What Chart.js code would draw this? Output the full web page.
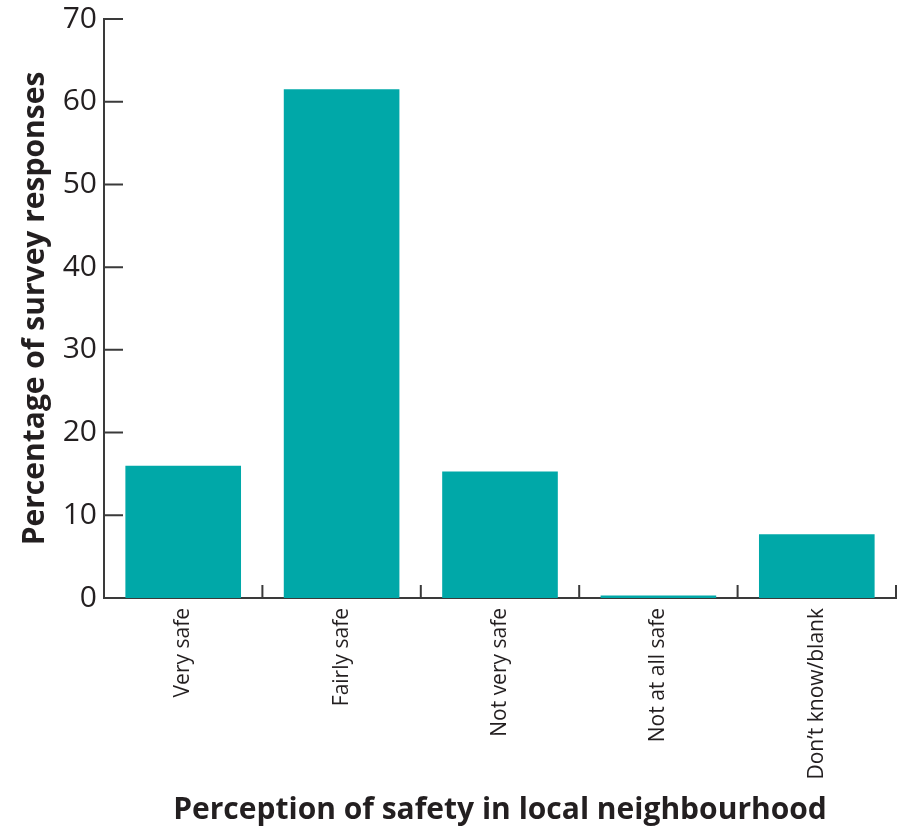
<!DOCTYPE html>
<html>
<head>
<meta charset="utf-8">
<script src="https://cdn.jsdelivr.net/npm/chart.js@4/dist/chart.umd.min.js"></script>
<style>
  html, body { margin: 0; padding: 0; background: #fff; }
  #wrap { width: 901px; height: 829px; }
</style>
</head>
<body>
<div id="wrap"><canvas id="myChart" width="901" height="829"></canvas></div>
<script>
const categories = ["Very safe", "Fairly safe", "Not very safe", "Not at all safe", "Don\u2019t know/blank"];
const percentages = [16.0, 61.5, 15.3, 0.3, 7.7];
const yTicks = [0, 10, 20, 30, 40, 50, 60, 70];

const axisColor = "#3a3a3a";
const barColor = "#00a8a8";
const textColor = "#231f20";
const font = "'Open Sans', sans-serif";

// draws the short inward tick marks like the original figure
const inwardTicks = {
  id: "inwardTicks",
  afterDraw(chart) {
    const ctx = chart.ctx;
    const x = chart.scales.x;
    const y = chart.scales.y;
    ctx.save();
    ctx.strokeStyle = axisColor;
    ctx.lineWidth = 2;
    ctx.beginPath();
    yTicks.forEach((v) => {
      const py = y.getPixelForValue(v);
      ctx.moveTo(x.left, py);
      ctx.lineTo(x.left + 19, py);
    });
    for (let i = 0; i <= categories.length; i++) {
      const px = x.getPixelForValue(i - 0.5);
      ctx.moveTo(px, y.bottom);
      ctx.lineTo(px, y.bottom - 13);
    }
    ctx.stroke();
    ctx.restore();
  },
};

new Chart(document.getElementById("myChart"), {
  type: "bar",
  data: {
    labels: categories,
    datasets: [
      {
        data: percentages,
        backgroundColor: barColor,
        barPercentage: 0.73,
        categoryPercentage: 1.0,
      },
    ],
  },
  options: {
    responsive: false,
    animation: false,
    layout: { padding: { top: 0, right: 5, bottom: 0, left: 0 } },
    plugins: { legend: { display: false }, tooltip: { enabled: false } },
    scales: {
      x: {
        afterFit: (scale) => {
          scale.height = 231;
        },
        grid: { display: false, drawTicks: false },
        border: { display: true, color: axisColor, width: 2 },
        ticks: {
          color: textColor,
          minRotation: 90,
          maxRotation: 90,
          padding: 10,
          font: { family: font, size: 21 },
        },
        title: {
          display: true,
          text: "Perception of safety in local neighbourhood",
          color: textColor,
          padding: { top: 0, bottom: 1 },
          font: { family: font, size: 30, weight: "bold" },
        },
      },
      y: {
        min: 0,
        max: 70,
        afterBuildTicks: (scale) => {
          scale.ticks = yTicks.map((v) => ({ value: v }));
        },
        afterFit: (scale) => {
          scale.width = 104;
          scale.paddingTop = 19;
        },
        grid: { display: false, drawTicks: false },
        border: { display: true, color: axisColor, width: 2 },
        ticks: {
          color: textColor,
          padding: 7,
          font: { family: font, size: 30, lineHeight: 1.0 },
        },
        title: {
          display: true,
          text: "Percentage of survey responses",
          color: textColor,
          padding: { top: 17, bottom: 0 },
          font: { family: font, size: 30, weight: "bold" },
        },
      },
    },
  },
  plugins: [inwardTicks],
});
</script>
</body>
</html>
